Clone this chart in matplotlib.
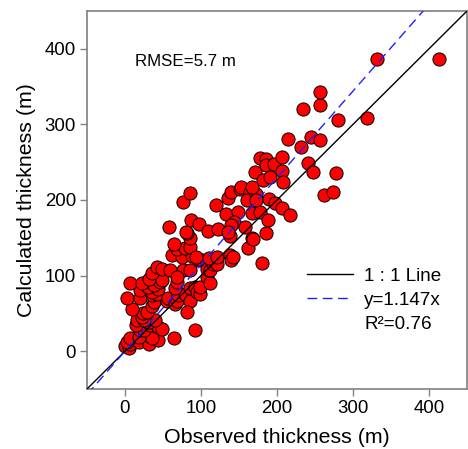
import matplotlib
matplotlib.use('Agg')
import matplotlib.pyplot as plt
from matplotlib.lines import Line2D
import numpy as np

plt.rcParams['font.family'] = ['Liberation Sans', 'DejaVu Sans']

# observed / calculated glacier thickness (m)
observed = [
    0, 5, 7, 3, 18, 7, 32, 44, 29, 35, 18, 20, 25, 14, 33, 44, 49, 31, 40, 16,
    25, 22, 24, 29, 9, 35, 38, 3, 20, 35, 20, 42, 35, 44, 30, 38, 7, 22, 46, 32,
    49, 35, 42, 49,
    55, 57, 66, 68, 70, 79, 85, 66, 68, 86, 92, 95, 99, 99, 81, 92, 64, 59, 76, 86,
    68, 108, 112, 62, 75, 88, 68, 79, 85, 85, 65, 81, 58, 80, 87, 98, 76, 86,
    97, 101, 108, 108, 112, 116, 121, 94, 111, 121, 138, 140, 142, 109, 122, 120,
    133, 136, 140, 151, 153, 164, 160, 149, 167, 143, 138, 140, 136, 158, 162, 167,
    171, 173, 173, 178, 178, 185, 185, 182, 191, 196, 190, 197, 206, 206, 208, 206,
    217, 188, 186, 180, 167, 215, 232, 241, 248, 245, 256, 234, 257, 257, 280, 319,
    331, 413, 262, 274, 278, 169,
]
calculated = [
    7, 4, 9, 12, 12, 17, 10, 15, 21, 17, 19, 28, 28, 34, 34, 32, 30, 39, 41, 41,
    41, 45, 50, 52, 56, 60, 65, 70, 71, 74, 81, 76, 78, 82, 85, 87, 90, 90, 92, 95,
    94, 103, 112, 109,
    67, 70, 63, 67, 74, 76, 67, 83, 92, 83, 85, 78, 76, 85, 52, 28, 17, 107, 107, 107,
    98, 98, 90, 127, 124, 126, 135, 137, 138, 150, 142, 156, 164, 158, 174, 168, 198, 209,
    120, 120, 118, 109, 108, 116, 116, 125, 123, 125, 127, 120, 125, 159, 162, 194,
    182, 203, 211, 215, 217, 211, 200, 184, 183, 171, 152, 167, 158, 164, 136, 150,
    237, 208, 200, 184, 255, 254, 246, 227, 231, 248, 201, 196, 257, 239, 224, 189,
    180, 174, 156, 117, 217, 281, 270, 249, 237, 283, 279, 320, 326, 343, 306, 309,
    386, 387, 207, 211, 236, 149,
]
slope = 1.147
r2 = 0.76
rmse = 5.7
ticks = [0, 100, 200, 300, 400]
lims = (-50, 450)

fig = plt.figure(figsize=(4.68, 4.49), dpi=100)
ax = fig.add_axes([87 / 468, 60 / 449, 380 / 468, 378 / 449])

line_x = np.array(lims)
ax.plot(line_x, line_x, color='black', lw=1.0, zorder=3)
ax.plot(line_x, slope * line_x, color='#2020ff', lw=1.0, ls=(0, (7, 4)), zorder=3)
ax.scatter(observed, calculated, s=90, c='#ff0000', edgecolors='black',
           linewidths=0.7, zorder=2)

ax.set_xlim(lims)
ax.set_ylim(lims)
ax.set_xticks(ticks)
ax.set_yticks(ticks)
ax.tick_params(direction='out', length=5, width=1, color='#808080',
               labelsize=13.4, pad=3)
for sp in ax.spines.values():
    sp.set_color('#808080')
    sp.set_linewidth(1.2)

ax.set_xlabel('Observed thickness (m)', fontsize=15.4, labelpad=8)
ax.set_ylabel('Calculated thickness (m)', fontsize=15.4, labelpad=6)

ax.text((135 - 87) / 380, (389 - 62) / 378, f'RMSE={rmse} m',
        transform=ax.transAxes, fontsize=12.2, va='center', ha='left')

handles = [
    Line2D([], [], color='black', lw=1.0),
    Line2D([], [], color='#2020ff', lw=1.0, ls=(0, (7, 4))),
    Line2D([], [], color='none'),
]
labels = ['1 : 1 Line', f'y={slope}x', f'R\u00b2={r2}']
ax.legend(handles, labels, loc='upper left', bbox_to_anchor=(0.58, 0.322),
          frameon=False, fontsize=13.6, handlelength=2.4, handletextpad=0.6,
          labelspacing=0.38, borderaxespad=0, borderpad=0)

fig.savefig('out.png', dpi=100)
plt.close(fig)
